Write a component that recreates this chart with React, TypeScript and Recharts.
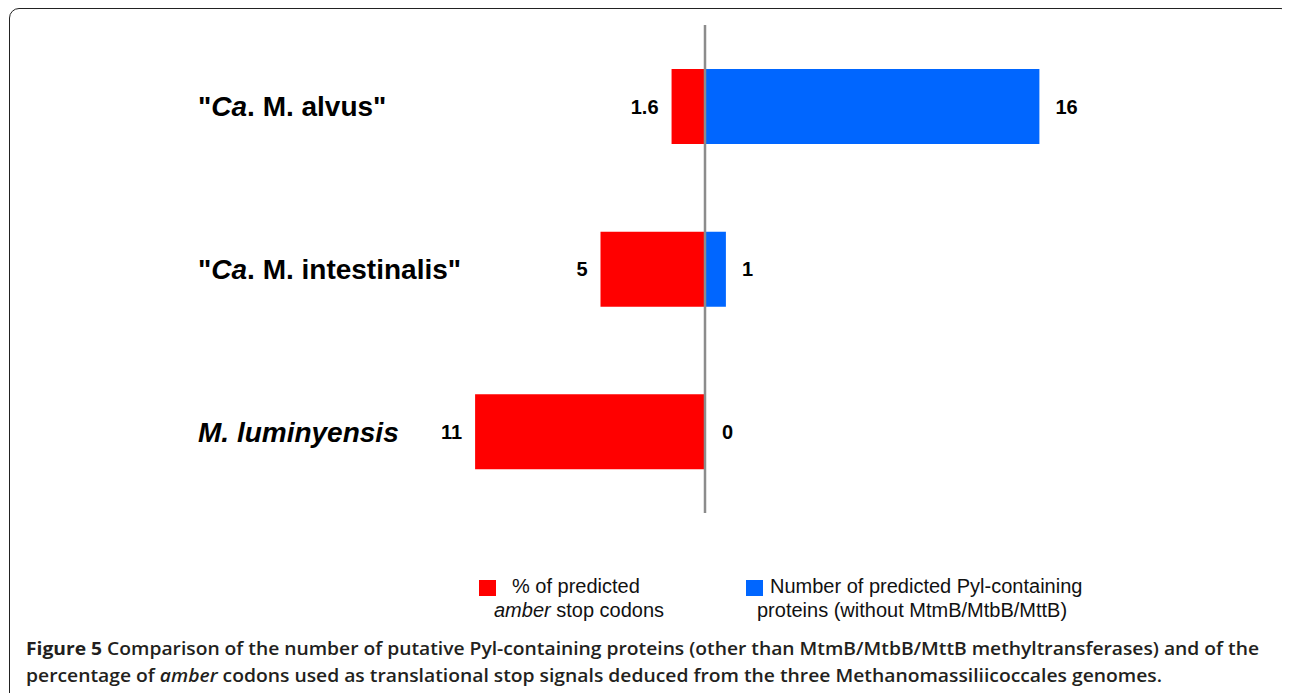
import React from 'react';
import { BarChart, Bar, XAxis, YAxis, ReferenceLine, LabelList } from 'recharts';

const categories = ['"Ca. M. alvus"', '"Ca. M. intestinalis"', 'M. luminyensis'];
const amberPct = [1.6, 5, 11];
const pylCount = [16, 1, 0];

const legendAmber = ['% of predicted', 'amber', ' stop codons'];
const legendPyl = ['Number of predicted Pyl-containing', 'proteins (without MtmB/MtbB/MttB)'];

const captionBold = 'Figure 5';
const captionLine1 = ' Comparison of the number of putative Pyl-containing proteins (other than MtmB/MtbB/MttB methyltransferases) and of the';
const captionLine2a = 'percentage of ';
const captionLine2b = 'amber';
const captionLine2c = ' codons used as translational stop signals deduced from the three Methanomassiliicoccales genomes.';

const RED = '#FF0000';
const BLUE = '#0066FF';
const FONT = '"Liberation Sans", Arial, Helvetica, sans-serif';

const data = categories.map((c, i) => ({ name: c, amber: -amberPct[i], pyl: pylCount[i] }));

const CatTick = (props: any) => {
  const { y, payload } = props;
  const label: string = payload.value;
  const yy = Number(y) + 10;
  if (label.startsWith('"Ca.')) {
    const rest = label.slice(3);
    return (
      <text x={190} y={yy} textAnchor="start" fontFamily={FONT} fontWeight="bold" fontSize={28} fill="#000">
        <tspan>"</tspan>
        <tspan fontStyle="italic">Ca</tspan>
        <tspan>{rest}</tspan>
      </text>
    );
  }
  return (
    <text x={190} y={yy} textAnchor="start" fontFamily={FONT} fontWeight="bold" fontStyle="italic" fontSize={28} fill="#000">
      {label}
    </text>
  );
};

const valueText = (x: number, y: number, anchor: 'start' | 'end', v: number, key?: string) => (
  <text key={key} x={x} y={y} textAnchor={anchor} fontFamily={FONT} fontWeight="bold" fontSize={20} fill="#000">
    {v}
  </text>
);

const RedLabel = (p: any) => {
  const x = Number(p.x), w = Number(p.width), y = Number(p.y), h = Number(p.height);
  const left = Math.min(x, x + w);
  const zero = Math.max(x, x + w);
  const idx = Number(p.index);
  const cy = y + h / 2 + 7;
  // the blue series' zero-length bar gets no label of its own, so draw it here
  const blueZero = pylCount[idx] === 0;
  return (
    <g>
      {valueText(left - 13, cy, 'end', Math.abs(Number(p.value)))}
      {blueZero ? valueText(zero + 17, cy, 'start', pylCount[idx]) : null}
    </g>
  );
};

const BlueLabel = (p: any) => {
  const x = Number(p.x), w = Number(p.width), y = Number(p.y), h = Number(p.height);
  const right = Math.max(x, x + w);
  if (Number(p.value) === 0) return null;
  return valueText(right + 16, y + h / 2 + 7, 'start', Math.abs(Number(p.value)));
};

export default function App() {
  return (
    <div style={{ position: 'relative', width: 1282, height: 685, overflow: 'hidden', background: '#fff' }}>
      <div
        style={{
          position: 'absolute',
          left: 1,
          top: 0,
          width: 1282,
          height: 800,
          border: '1.5px solid #222',
          borderRadius: 10,
          boxSizing: 'border-box',
        }}
      />
      <div style={{ position: 'absolute', left: 0, top: 0 }}>
        <BarChart
          layout="vertical"
          width={1282}
          height={540}
          data={data}
          stackOffset="sign"
          margin={{ top: 17, right: 167, bottom: 35, left: 190 }}
        >
          <XAxis type="number" domain={[-20, 20]} hide allowDataOverflow />
          <YAxis
            type="category"
            dataKey="name"
            width={89}
            axisLine={false}
            tickLine={false}
            interval={0}
            tick={<CatTick />}
          />
          <Bar dataKey="amber" stackId="s" fill={RED} barSize={75} isAnimationActive={false}>
            <LabelList dataKey="amber" content={<RedLabel />} />
          </Bar>
          <Bar dataKey="pyl" stackId="s" fill={BLUE} barSize={75} isAnimationActive={false}>
            <LabelList dataKey="pyl" content={<BlueLabel />} />
          </Bar>
          <ReferenceLine x={0} stroke="#8c8c8c" strokeWidth={2.5} />
        </BarChart>
      </div>
      <svg width={1282} height={685} style={{ position: 'absolute', left: 0, top: 0, pointerEvents: 'none' }}>
        <rect x={471} y={572} width={17} height={16} fill={RED} />
        <text x={504} y={585} fontFamily={FONT} fontSize={20} fill="#111">{legendAmber[0]}</text>
        <text x={486} y={609} fontFamily={FONT} fontSize={20} fill="#111">
          <tspan fontStyle="italic">{legendAmber[1]}</tspan>
          <tspan>{legendAmber[2]}</tspan>
        </text>
        <rect x={738} y={572} width={17} height={16} fill={BLUE} />
        <text x={762} y={585} fontFamily={FONT} fontSize={20} fill="#111">{legendPyl[0]}</text>
        <text x={749} y={609} fontFamily={FONT} fontSize={20} fill="#111">{legendPyl[1]}</text>

        <text x={18} y={647} fontFamily='"Open Sans", sans-serif' fontSize={18.5} fill="#231f20" textLength={1233} lengthAdjust="spacingAndGlyphs">
          <tspan fontWeight="bold">{captionBold}</tspan>
          <tspan fontWeight={600}>{captionLine1}</tspan>
        </text>
        <text x={18} y={674} fontFamily='"Open Sans", sans-serif' fontSize={18.5} fill="#231f20" textLength={1136} lengthAdjust="spacingAndGlyphs">
          <tspan fontWeight={600}>{captionLine2a}</tspan>
          <tspan fontWeight={600} fontStyle="italic">{captionLine2b}</tspan>
          <tspan fontWeight={600}>{captionLine2c}</tspan>
        </text>
      </svg>
    </div>
  );
}
